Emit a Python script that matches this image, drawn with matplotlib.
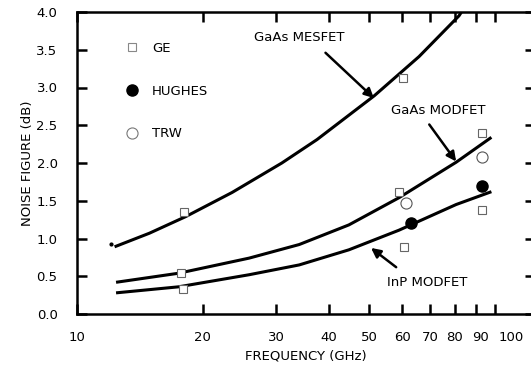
import matplotlib

matplotlib.use("Agg")
import matplotlib.pyplot as plt
from matplotlib.lines import Line2D
from matplotlib.ticker import FixedLocator, NullLocator
from matplotlib.transforms import ScaledTranslation

plt.rcParams["font.family"] = ["DejaVu Sans"]

mesfet_f = [12.3, 14.9, 18.2, 23.5, 30.9, 37.5, 51.4, 65.8, 82.0, 84.0]
mesfet_nf = [0.89, 1.07, 1.29, 1.61, 2.00, 2.31, 2.89, 3.41, 3.95, 4.04]

gaas_modfet_f = [12.4, 17.5, 25.8, 34.0, 44.7, 58.9, 80.7, 98.0]
gaas_modfet_nf = [0.42, 0.54, 0.74, 0.92, 1.18, 1.54, 2.01, 2.34]

inp_modfet_f = [12.4, 17.5, 25.8, 34.0, 44.7, 58.9, 80.7, 98.0]
inp_modfet_nf = [0.28, 0.36, 0.52, 0.65, 0.85, 1.11, 1.45, 1.62]

# measured points
ge_f = [18.0, 17.7, 17.9, 60.3, 58.9, 60.6, 93.1, 93.1]
ge_nf = [1.35, 0.54, 0.33, 3.12, 1.62, 0.89, 2.40, 1.38]
hughes_f = [63.0, 93.1]
hughes_nf = [1.21, 1.70]
trw_f = [61.2, 93.1]
trw_nf = [1.47, 2.08]
stray_f = [12.06]
stray_nf = [0.93]

x_ticks = [10, 20, 30, 40, 50, 60, 70, 80, 90, 100]
y_ticks = [0.0, 0.5, 1.0, 1.5, 2.0, 2.5, 3.0, 3.5, 4.0]

W, H = 531, 367
fig = plt.figure(figsize=(W / 100, H / 100), dpi=100)
ax = fig.add_axes([77 / W, 53 / H, 458 / W, 302 / H])

ax.set_xscale("log")
ax.set_xlim(10, 124.6)
ax.set_ylim(0, 4.0)

curve_kw = dict(color="black", lw=2.2, solid_capstyle="butt",
                solid_joinstyle="round")
ax.plot(mesfet_f, mesfet_nf, **curve_kw)
ax.plot(gaas_modfet_f, gaas_modfet_nf, **curve_kw)
ax.plot(inp_modfet_f, inp_modfet_nf, **curve_kw)

ax.plot(ge_f, ge_nf, ls="none", marker="s", ms=5.5, mfc="white",
        mec="#666666", mew=0.8, zorder=3)
ax.plot(hughes_f, hughes_nf, ls="none", marker="o", ms=8, mfc="black",
        mec="black", zorder=3)
ax.plot(trw_f, trw_nf, ls="none", marker="o", ms=8, mfc="white",
        mec="#555555", mew=0.8, zorder=3)
ax.plot(stray_f, stray_nf, ls="none", marker="o", ms=2, color="black")

arrow = dict(arrowstyle="-|>", color="black", lw=1.8, mutation_scale=14,
             shrinkA=0, shrinkB=0)
ax.annotate("GaAs MESFET", xy=(51.3, 2.86), xytext=(34.0, 3.66),
            fontsize=9.5, ha="center", va="center")
ax.annotate("", xy=(51.3, 2.86), xytext=(39.3, 3.46), arrowprops=arrow)
ax.annotate("GaAs MODFET", xy=(80.7, 2.02), xytext=(73.0, 2.69),
            fontsize=9.5, ha="center", va="center")
ax.annotate("", xy=(80.7, 2.02), xytext=(69.6, 2.51), arrowprops=arrow)
ax.annotate("InP MODFET", xy=(50.5, 0.875), xytext=(68.7, 0.42),
            fontsize=9.5, ha="center", va="center")
ax.annotate("", xy=(50.5, 0.875), xytext=(58.0, 0.62), arrowprops=arrow)

handles = [
    Line2D([], [], ls="none", marker="s", ms=5.5, mfc="white", mec="#888888", mew=0.8),
    Line2D([], [], ls="none", marker="o", ms=8, mfc="black", mec="black"),
    Line2D([], [], ls="none", marker="o", ms=8, mfc="white", mec="#777777", mew=0.8),
]
ax.legend(handles, ["GE", "HUGHES", "TRW"], loc="upper left",
          bbox_to_anchor=(0.08, 0.94), frameon=False, fontsize=9.5,
          handlelength=1.0, handletextpad=1.0, labelspacing=2.25)

ax.xaxis.set_major_locator(FixedLocator(x_ticks))
ax.xaxis.set_minor_locator(NullLocator())
ax.set_xticklabels([str(v) for v in x_ticks])
ax.set_yticks(y_ticks)
ax.set_yticklabels([f"{v:.1f}" for v in y_ticks])

ax.tick_params(axis="both", which="major", direction="in", length=7,
               width=1.8, labelsize=9.5, top=True, right=True)
ax.tick_params(axis="x", pad=12)
ax.tick_params(axis="y", pad=14)

# the last two frequency labels sit a little right of their ticks
for lab, shift in zip(ax.get_xticklabels()[-2:], [5, 16]):
    lab.set_transform(lab.get_transform()
                      + ScaledTranslation(shift / 100, 0, fig.dpi_scale_trans))

for side in ["left", "bottom", "top", "right"]:
    ax.spines[side].set_linewidth(1.8)

ax.set_xlabel("FREQUENCY (GHz)", fontsize=9.5, labelpad=4)
ax.set_ylabel("NOISE FIGURE (dB)", fontsize=9.5, labelpad=2)

fig.savefig("out.png", dpi=100)
